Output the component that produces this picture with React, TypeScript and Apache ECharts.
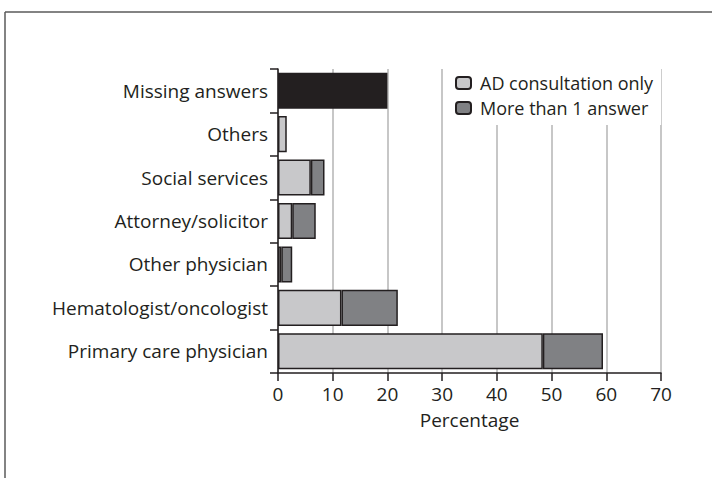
import React, { useEffect, useRef } from "react";
import * as echarts from "echarts";

const categories = [
  "Primary care physician",
  "Hematologist/oncologist",
  "Other physician",
  "Attorney/solicitor",
  "Social services",
  "Others",
  "Missing answers",
];
const adConsultationOnly = [48.4, 11.6, 0.6, 2.6, 6.0, 1.6, null];
const moreThanOneAnswer = [11.0, 10.3, 2.0, 4.3, 2.5, null, null];
const missingAnswers = [null, null, null, null, null, null, 20.0];
const xTicks = [0, 10, 20, 30, 40, 50, 60, 70];

const FONT = "'Open Sans', 'Noto Sans', sans-serif";
const INK = "#231f20";
const FS = 19;

export default function App() {
  const ref = useRef<HTMLDivElement>(null);
  useEffect(() => {
    if (!ref.current) return;
    const chart = echarts.init(ref.current, null, { renderer: "svg" });
    const border = { borderColor: INK, borderWidth: 1.5 };
    chart.setOption({
      animation: false,
      backgroundColor: "#ffffff",
      textStyle: { fontFamily: FONT, color: INK },
      grid: { left: 278, top: 69, width: 383, height: 304, containLabel: false },
      legend: {
        data: ["AD consultation only", "More than 1 answer"],
        orient: "vertical",
        left: 446,
        top: 66,
        padding: [5, 8, 5, 9],
        itemGap: 1,
        itemWidth: 15,
        itemHeight: 12,
        backgroundColor: "#ffffff",
        textStyle: {
          fontSize: 18,
          color: INK,
          fontFamily: FONT,
          lineHeight: 24,
          padding: [0, 0, 0, 4],
        },
      },
      xAxis: {
        type: "value",
        min: xTicks[0],
        max: xTicks[xTicks.length - 1],
        interval: 10,
        name: "Percentage",
        nameLocation: "middle",
        nameGap: 37,
        nameTextStyle: { fontSize: FS, color: INK, fontFamily: FONT },
        axisLine: { show: true, lineStyle: { color: INK, width: 1.5 } },
        axisTick: { show: true, length: 8, lineStyle: { color: INK, width: 1.5 } },
        axisLabel: { fontSize: FS, color: INK, margin: 11, fontFamily: FONT },
        splitLine: { show: true, lineStyle: { color: "#b5b5b5", width: 1.5 } },
      },
      yAxis: {
        type: "category",
        data: categories,
        axisLine: { show: true, lineStyle: { color: INK, width: 1.5 } },
        axisTick: { show: true, length: 8, lineStyle: { color: INK, width: 1.5 } },
        axisLabel: { fontSize: FS, color: INK, margin: 10, fontFamily: FONT },
        splitLine: { show: false },
      },
      series: [
        {
          name: "AD consultation only",
          type: "bar",
          stack: "total",
          barCategoryGap: "17%",
          data: adConsultationOnly,
          itemStyle: { color: "#c8c8ca", ...border },
        },
        {
          name: "More than 1 answer",
          type: "bar",
          stack: "total",
          barCategoryGap: "17%",
          data: moreThanOneAnswer,
          itemStyle: { color: "#808184", ...border },
        },
        {
          name: "Missing answers",
          type: "bar",
          stack: "total",
          barCategoryGap: "17%",
          data: missingAnswers,
          itemStyle: { color: INK, ...border },
        },
      ],
      graphic: [
        {
          type: "line",
          shape: { x1: 5, y1: 12, x2: 712, y2: 12 },
          style: { stroke: "#5a5a5a", lineWidth: 1.5 },
        },
        {
          type: "line",
          shape: { x1: 5, y1: 12, x2: 5, y2: 478 },
          style: { stroke: "#5a5a5a", lineWidth: 1.5 },
        },
      ],
    });
    return () => chart.dispose();
  }, []);
  return (
    <div
      ref={ref}
      style={{ position: "fixed", left: 0, top: 0, width: 712, height: 478 }}
    />
  );
}
